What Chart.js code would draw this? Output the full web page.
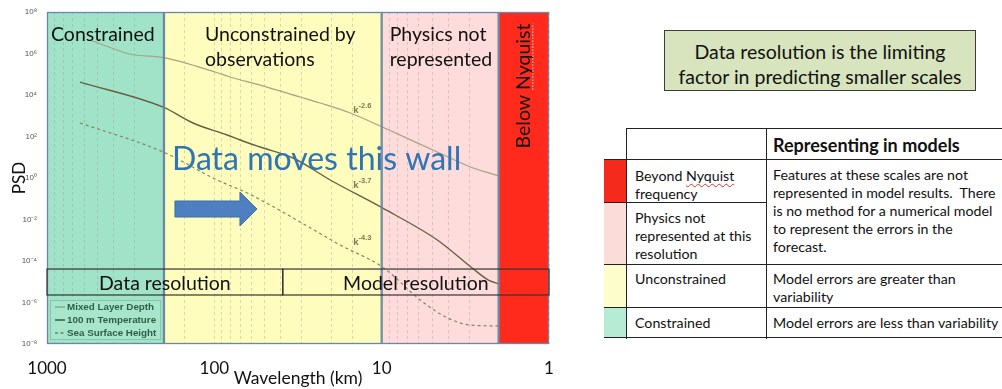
<!DOCTYPE html>
<html>
<head>
<meta charset="utf-8">
<script src="https://cdn.jsdelivr.net/npm/chart.js@4.4.1/dist/chart.umd.min.js"></script>
<style>
  html, body { margin: 0; padding: 0; background: #fff; width: 1002px; height: 389px; overflow: hidden; font-family: Lato, "Open Sans", sans-serif; color: #111; }
  #wrap { position: absolute; left: 0; top: 0; width: 560px; height: 389px; }
  .note { position: absolute; left: 664px; top: 30px; width: 312px; height: 61px; box-sizing: border-box;
          border: 1.5px solid #3c3c3c; background: #d7e4bd; text-align: center; font-size: 19.5px; line-height: 25px; padding-top: 8px; }
  .hl { position: absolute; height: 0; border-top: 1.5px solid #222; }
  .vl { position: absolute; width: 0; border-left: 1.5px solid #222; }
  .sw { position: absolute; left: 604px; width: 22px; }
  .tx { position: absolute; font-size: 14.2px; line-height: 18px; white-space: nowrap; }
  .hd { position: absolute; font-size: 18px; font-weight: 700; line-height: 20px; white-space: nowrap; }
  .sq { text-decoration: underline wavy #e03030; text-decoration-thickness: 1px; text-underline-offset: 2px; }
</style>
</head>
<body>
<div id="wrap"><canvas id="c" width="560" height="389"></canvas></div>

<div class="note">Data resolution is the limiting<br>factor in predicting smaller scales</div>

<!-- scale-category table -->
<div class="sw" style="top:160px;height:43px;background:#f32a1c"></div>
<div class="sw" style="top:203px;height:62px;background:#fbdcd8"></div>
<div class="sw" style="top:265px;height:43px;background:#fdfccb"></div>
<div class="sw" style="top:308px;height:30px;background:#b6ecd3"></div>

<div class="hl" style="left:626px;top:128px;width:376px"></div>
<div class="hl" style="left:604px;top:159px;width:398px"></div>
<div class="hl" style="left:604px;top:202px;width:162px"></div>
<div class="hl" style="left:604px;top:264px;width:398px"></div>
<div class="hl" style="left:604px;top:307px;width:398px"></div>
<div class="hl" style="left:604px;top:337px;width:398px"></div>
<div class="vl" style="left:626px;top:128px;height:211px"></div>
<div class="vl" style="left:766px;top:128px;height:211px"></div>

<div class="hd" style="left:773px;top:135px">Representing in models</div>
<div class="tx" style="left:635px;top:167px">Beyond <span class="sq">Nyquist</span><br>frequency</div>
<div class="tx" style="left:635px;top:209px">Physics not<br>represented at this<br>resolution</div>
<div class="tx" style="left:635px;top:270px">Unconstrained</div>
<div class="tx" style="left:635px;top:314px">Constrained</div>
<div class="tx" style="left:773px;top:166px">Features at these scales are not<br>represented in model results.&nbsp; There<br>is no method for a numerical model<br>to represent the errors in the<br>forecast.</div>
<div class="tx" style="left:773px;top:270px">Model errors are greater than<br>variability</div>
<div class="tx" style="left:773px;top:314px">Model errors are less than variability</div>

<script>
// Power spectral density of three ocean fields against wavelength
const wavelengthMLD  = [553, 319, 197, 99, 80.5, 53.2, 30.7, 23.3, 15.4, 9.9, 4.65, 2.95, 1.98];
const psdMLD         = [4.5e6, 9.5e5, 6.1e5, 1.28e5, 7.4e4, 3.0e4, 8.0e3, 4.1e3, 1.36e3, 287, 17.9, 3.4, 1.25];

const wavelengthTemp = [635, 202, 134, 83.8, 70.1, 53.2, 33.8, 20.3, 9.9, 4.65, 2.83, 2.30, 1.98];
const psdTemp        = [4.2e4, 2.6e3, 448, 118, 67.8, 31.2, 9.2, 0.80, 0.036, 1.03e-3, 4.1e-5, 1.2e-5, 7.8e-6];

const wavelengthSSH  = [635, 202, 96.2, 65.4, 46.4, 30.7, 17.7, 9.9, 5.88, 4.46, 3.53, 2.95, 1.98];
const psdSSH         = [448, 17.9, 0.80, 0.21, 0.05, 7.6e-3, 5.9e-4, 5.1e-5, 1.32e-6, 2.8e-7, 1.15e-7, 8.2e-8, 7.4e-8];

const seriesNames    = ['Mixed Layer Depth', '100 m Temperature', 'Sea Surface Height'];

// wavelength bands (km)
const bandFrom       = [1000, 200, 10, 2];
const bandTo         = [200, 10, 2, 1];
const bandLabels     = [['Constrained'], ['Unconstrained by', 'observations'], ['Physics not', 'represented'], ['Below Nyquist']];

// resolution limits (km)
const resolutionNames = ['Data resolution', 'Model resolution'];
const resolutionFrom  = [1000, 39];
const resolutionTo    = [39, 1];

// spectral slopes
const slopeExponents  = ['-2.6', '-3.7', '-4.3'];

const xTickLabels     = [1000, 100, 10, 1];
const yTickExponents  = [8, 6, 4, 2, 0, -2, -4, -6, -8];

// ---- styling ----
const bandFill   = ['#a0e3c9', '#fffdbd', '#ffdcdc', '#ff2a1c'];
const bandEdge   = '#6a88a6';
const lineColors = ['#a6a386', '#646140', '#85835c'];
const slopeAt    = [{ x: 14.8, y: 1.35e3 }, { x: 14.8, y: 0.33 }, { x: 14.8, y: 5.9e-4 }];

const SUP = { '-': '\u207B', '0': '\u2070', '1': '\u00B9', '2': '\u00B2', '3': '\u00B3', '4': '\u2074',
              '5': '\u2075', '6': '\u2076', '7': '\u2077', '8': '\u2078', '9': '\u2079' };
const sup = s => String(s).split('').map(c => SUP[c] || c).join('');

const pts = (xs, ys) => xs.map((x, i) => ({ x: x, y: ys[i] }));

const overlay = {
  id: 'overlay',
  beforeDraw(chart) {
    const { ctx, chartArea: a, scales: { x } } = chart;
    ctx.save();
    bandFrom.forEach((f, i) => {
      const x0 = x.getPixelForValue(f), x1 = x.getPixelForValue(bandTo[i]);
      ctx.fillStyle = bandFill[i];
      ctx.fillRect(x0, a.top, x1 - x0, a.bottom - a.top);
    });
    ctx.restore();
  },
  afterDatasetsDraw(chart) {
    const { ctx, chartArea: a, scales: { x, y } } = chart;
    ctx.save();

    // band outlines
    ctx.strokeStyle = bandEdge;
    ctx.lineWidth = 1.3;
    bandFrom.forEach((f, i) => {
      const x0 = x.getPixelForValue(f), x1 = x.getPixelForValue(bandTo[i]);
      ctx.strokeRect(x0 + 0.5, a.top + 0.5, x1 - x0 - 1, a.bottom - a.top - 1);
    });

    // band titles
    ctx.fillStyle = '#111';
    ctx.font = '19.5px Lato';
    ctx.textBaseline = 'alphabetic';
    ctx.textAlign = 'left';
    const indent = [4, 41, 8];
    for (let i = 0; i < 3; i++) {
      const x0 = x.getPixelForValue(bandFrom[i]) + indent[i];
      bandLabels[i].forEach((t, k) => ctx.fillText(t, x0, a.top + 29 + k * 25));
    }
    const nx = (x.getPixelForValue(bandFrom[3]) + x.getPixelForValue(bandTo[3])) / 2;
    ctx.save();
    ctx.translate(nx, a.top + 74);
    ctx.rotate(-Math.PI / 2);
    ctx.font = '19.5px Lato';
    ctx.textAlign = 'center';
    ctx.textBaseline = 'middle';
    ctx.fillText(bandLabels[3][0], 0, 0);
    const w = ctx.measureText(bandLabels[3][0]).width;
    const w2 = ctx.measureText('Nyquist').width;
    ctx.strokeStyle = 'rgba(255,230,220,0.9)';
    ctx.lineWidth = 1;
    ctx.setLineDash([1.5, 1.5]);
    ctx.beginPath();
    ctx.moveTo(w / 2 - w2, 9);
    ctx.lineTo(w / 2, 9);
    ctx.stroke();
    ctx.restore();

    // resolution boxes
    const ry0 = y.getPixelForValue(4.1e-5), ry1 = y.getPixelForValue(2.3e-6);
    ctx.strokeStyle = '#333';
    ctx.lineWidth = 1.2;
    ctx.font = '19.5px Lato';
    ctx.textAlign = 'center';
    ctx.textBaseline = 'alphabetic';
    resolutionNames.forEach((n, i) => {
      const x0 = x.getPixelForValue(resolutionFrom[i]), x1 = x.getPixelForValue(resolutionTo[i]);
      ctx.strokeRect(x0, ry0, x1 - x0, ry1 - ry0);
      ctx.fillStyle = '#111';
      ctx.fillText(n, (x0 + x1) / 2, ry1 - 5);
    });

    // slope annotations
    ctx.fillStyle = '#7b7a52';
    ctx.textAlign = 'left';
    slopeExponents.forEach((e, i) => {
      const px = x.getPixelForValue(slopeAt[i].x), py = y.getPixelForValue(slopeAt[i].y);
      ctx.font = 'bold 9.5px "Liberation Sans"';
      ctx.fillText('k', px, py);
      const kw = ctx.measureText('k').width;
      ctx.font = 'bold 7.5px "Liberation Sans"';
      ctx.fillText(e, px + kw, py - 5);
    });

    // headline
    const hx = x.getPixelForValue(bandFrom[1]) + 8;
    ctx.fillStyle = '#2e75b6';
    ctx.font = '32px Lato';
    ctx.textAlign = 'left';
    ctx.fillText('Data moves this wall', hx, a.top + 158);

    // arrow
    const ax0 = hx + 3, ax1 = ax0 + 65, ax2 = ax0 + 82, ay = a.top + 197;
    ctx.fillStyle = '#4d7fc1';
    ctx.strokeStyle = '#3f6ea8';
    ctx.lineWidth = 1;
    ctx.beginPath();
    ctx.moveTo(ax0, ay - 8);
    ctx.lineTo(ax1, ay - 8);
    ctx.lineTo(ax1, ay - 17);
    ctx.lineTo(ax2, ay);
    ctx.lineTo(ax1, ay + 17);
    ctx.lineTo(ax1, ay + 8);
    ctx.lineTo(ax0, ay + 8);
    ctx.closePath();
    ctx.fill();
    ctx.stroke();

    // legend
    const lx = a.left + 3, ly = a.top + 288;
    ctx.fillStyle = 'rgba(168,230,206,0.85)';
    ctx.strokeStyle = '#86c6a8';
    ctx.lineWidth = 1;
    ctx.fillRect(lx, ly, 110, 39);
    ctx.strokeRect(lx + 0.5, ly + 0.5, 110, 39);
    ctx.font = 'bold 9.8px "Liberation Sans"';
    ctx.textBaseline = 'middle';
    chart.data.datasets.forEach((ds, i) => {
      const cy = ly + 7 + i * 13;
      ctx.strokeStyle = i === 0 ? '#6c9c82' : '#2f5e45';
      ctx.lineWidth = i === 1 ? 1.5 : 1.1;
      ctx.setLineDash(ds.borderDash && ds.borderDash.length ? [3, 2.5] : []);
      ctx.beginPath();
      ctx.moveTo(lx + 5, cy);
      ctx.lineTo(lx + 15, cy);
      ctx.stroke();
      ctx.setLineDash([]);
      ctx.fillStyle = '#2f5e45';
      ctx.fillText(ds.label, lx + 17, cy);
    });

    ctx.restore();
  }
};

function build() {
  new Chart(document.getElementById('c'), {
    type: 'line',
    data: {
      datasets: [
        { label: seriesNames[0], data: pts(wavelengthMLD, psdMLD),   borderColor: lineColors[0], borderWidth: 1.2 },
        { label: seriesNames[1], data: pts(wavelengthTemp, psdTemp), borderColor: lineColors[1], borderWidth: 1.4 },
        { label: seriesNames[2], data: pts(wavelengthSSH, psdSSH),   borderColor: lineColors[2], borderWidth: 1.2, borderDash: [3, 3] }
      ]
    },
    options: {
      responsive: false,
      animation: false,
      layout: { padding: { left: 0, right: 11, top: 12, bottom: 0 } },
      elements: { point: { radius: 0 }, line: { cubicInterpolationMode: 'monotone', fill: false } },
      plugins: { legend: { display: false }, tooltip: { enabled: false } },
      scales: {
        x: {
          type: 'logarithmic', reverse: true, min: 1, max: 1000,
          afterFit: s => { s.height = 45; s.paddingLeft = 0; s.paddingRight = 0; },
          border: { display: false, dash: [3, 3] },
          grid: { color: 'rgba(140,140,140,0.32)', lineWidth: 1, drawTicks: false },
          ticks: {
            autoSkip: false, maxRotation: 0, padding: 14, color: '#111',
            font: { family: 'Lato', size: 17 },
            callback: v => xTickLabels.includes(v) ? String(v) : ''
          },
          title: { display: true, text: 'Wavelength (km)', color: '#111', font: { family: 'Lato', size: 17.5 }, padding: { top: 0, bottom: 0 } }
        },
        y: {
          type: 'logarithmic', min: 1e-8, max: 1e8,
          afterFit: s => { s.width = 47; s.paddingTop = 0; s.paddingBottom = 0; },
          afterBuildTicks: s => { s.ticks = yTickExponents.map(e => ({ value: Math.pow(10, e) })); },
          border: { display: false },
          grid: { drawOnChartArea: false, drawTicks: false },
          ticks: {
            autoSkip: false, padding: 10, color: '#555',
            font: { family: 'Liberation Sans', size: 8 },
            callback: v => '10' + sup(Math.round(Math.log10(v)))
          },
          title: { display: true, text: 'PSD', color: '#111', font: { family: 'Lato', size: 17 }, padding: { top: 9, bottom: 0 } }
        }
      }
    },
    plugins: [overlay]
  });
}

const fontReady = document.fonts ? Promise.all([
  document.fonts.load('18px Lato'), document.fonts.load('bold 9px "Liberation Sans"')
]).catch(() => {}) : Promise.resolve();
fontReady.then(build);
</script>
</body>
</html>
